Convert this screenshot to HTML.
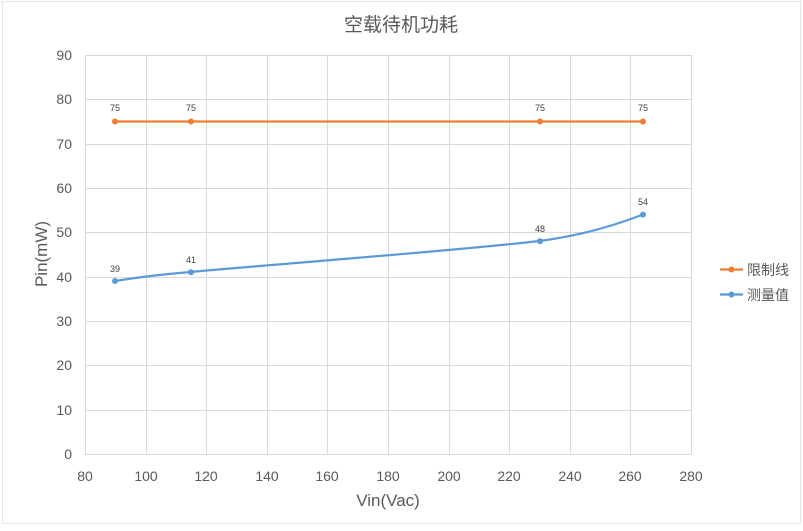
<!DOCTYPE html>
<html><head><meta charset="utf-8"><style>
body{margin:0;background:#fff;}
svg text{font-family:"Liberation Sans","Noto Sans CJK SC",sans-serif;}
</style></head><body>
<svg width="803" height="526" viewBox="0 0 803 526" xmlns="http://www.w3.org/2000/svg">
<rect x="0" y="0" width="803" height="526" fill="#fff"/>
<rect x="2.5" y="1.5" width="798" height="522" fill="none" stroke="#e6e6e6" stroke-width="1"/>
<text x="401" y="31" font-size="19" fill="#595959" text-anchor="middle">空载待机功耗</text>
<g stroke="#d9d9d9" stroke-width="1">
<line x1="85" y1="55.5" x2="691" y2="55.5"/><line x1="85" y1="99.5" x2="691" y2="99.5"/><line x1="85" y1="144.5" x2="691" y2="144.5"/><line x1="85" y1="188.5" x2="691" y2="188.5"/><line x1="85" y1="232.5" x2="691" y2="232.5"/><line x1="85" y1="277.5" x2="691" y2="277.5"/><line x1="85" y1="321.5" x2="691" y2="321.5"/><line x1="85" y1="365.5" x2="691" y2="365.5"/><line x1="85" y1="410.5" x2="691" y2="410.5"/><line x1="85" y1="454.5" x2="691" y2="454.5"/>
<line x1="85.5" y1="55" x2="85.5" y2="454"/><line x1="146.5" y1="55" x2="146.5" y2="454"/><line x1="206.5" y1="55" x2="206.5" y2="454"/><line x1="267.5" y1="55" x2="267.5" y2="454"/><line x1="327.5" y1="55" x2="327.5" y2="454"/><line x1="388.5" y1="55" x2="388.5" y2="454"/><line x1="449.5" y1="55" x2="449.5" y2="454"/><line x1="509.5" y1="55" x2="509.5" y2="454"/><line x1="570.5" y1="55" x2="570.5" y2="454"/><line x1="630.5" y1="55" x2="630.5" y2="454"/><line x1="691.5" y1="55" x2="691.5" y2="454"/>
</g>
<g font-size="14" fill="#595959" text-anchor="end">
<text x="72" y="60">90</text><text x="72" y="104">80</text><text x="72" y="149">70</text><text x="72" y="193">60</text><text x="72" y="237">50</text><text x="72" y="282">40</text><text x="72" y="326">30</text><text x="72" y="370">20</text><text x="72" y="415">10</text><text x="72" y="459">0</text>
</g>
<g font-size="14" fill="#595959" text-anchor="middle">
<text x="85" y="481">80</text><text x="146" y="481">100</text><text x="206" y="481">120</text><text x="267" y="481">140</text><text x="327" y="481">160</text><text x="388" y="481">180</text><text x="449" y="481">200</text><text x="509" y="481">220</text><text x="570" y="481">240</text><text x="630" y="481">260</text><text x="691" y="481">280</text>
</g>
<text x="388" y="506" font-size="17" fill="#595959" text-anchor="middle">Vin(Vac)</text>
<text transform="translate(47,254) rotate(-90)" font-size="17" fill="#595959" text-anchor="middle">Pin(mW)</text>
<line x1="115" y1="121.5" x2="643" y2="121.5" stroke="#ed7d31" stroke-width="2.2"/>
<g fill="#ed7d31"><circle cx="115" cy="121.5" r="3"/><circle cx="191" cy="121.5" r="3"/><circle cx="540" cy="121.5" r="3"/><circle cx="643" cy="121.5" r="3"/></g>
<path d="M115,281 C140,277 165,274 191,272 C300,262 430,253 540,241 C575,236 605,229 643,214.5" fill="none" stroke="#5b9bd5" stroke-width="2.2"/>
<g fill="#5b9bd5"><circle cx="115" cy="281" r="3"/><circle cx="191" cy="272.2" r="3"/><circle cx="540" cy="241.2" r="3"/><circle cx="643" cy="214.6" r="3"/></g>
<g font-size="9" fill="#404040" text-anchor="middle">
<text x="115" y="111">75</text><text x="191" y="111">75</text><text x="540" y="111">75</text><text x="643" y="111">75</text>
<text x="115" y="272">39</text><text x="191" y="263">41</text><text x="540" y="232">48</text><text x="643" y="205">54</text>
</g>
<line x1="720" y1="269.5" x2="743" y2="269.5" stroke="#ed7d31" stroke-width="2.2"/><circle cx="731.5" cy="269.5" r="3" fill="#ed7d31"/>
<text x="747" y="275" font-size="14" fill="#595959">限制线</text>
<line x1="720" y1="294.5" x2="743" y2="294.5" stroke="#5b9bd5" stroke-width="2.2"/><circle cx="731.5" cy="294.5" r="3" fill="#5b9bd5"/>
<text x="747" y="300" font-size="14" fill="#595959">测量值</text>
</svg>
</body></html>
